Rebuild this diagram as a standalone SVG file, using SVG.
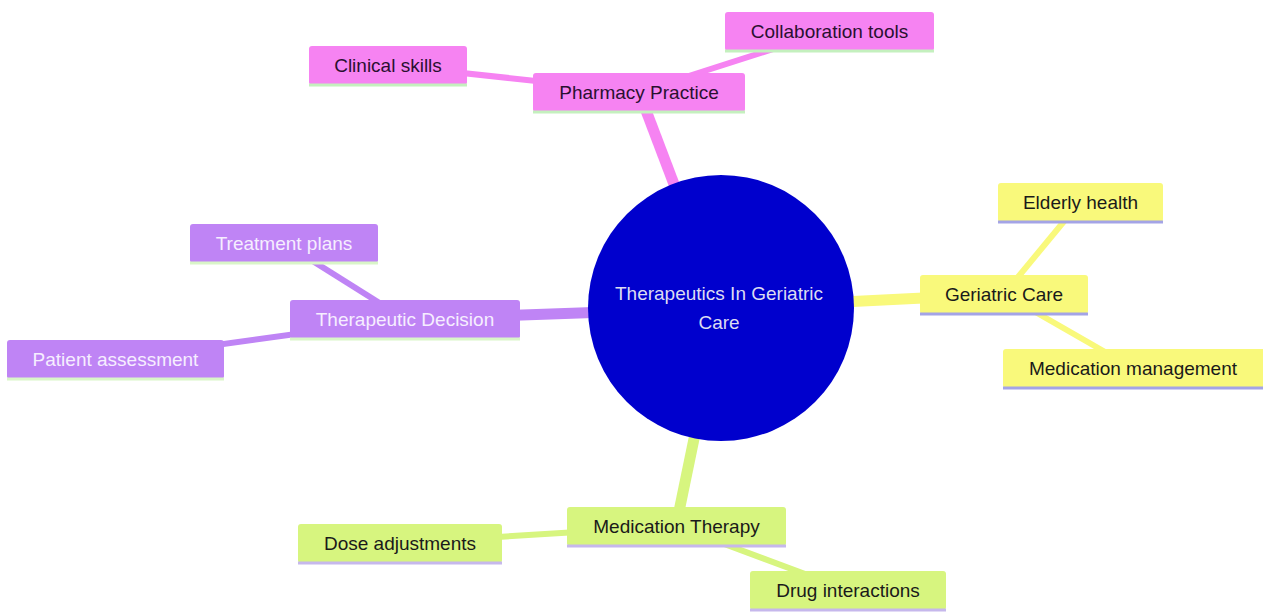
<svg xmlns="http://www.w3.org/2000/svg" width="1263" height="612" viewBox="0 0 1263 612">
<style>
text{font-family:"Liberation Sans",Arial,sans-serif;font-size:19px;text-anchor:middle}
.e0{stroke:#f683f2}.e1{stroke:#bf84f5}.e2{stroke:#f9f97b}.e3{stroke:#d7f57f}
.main{stroke-width:11;stroke-linecap:butt;fill:none}
.leaf{stroke-width:6;stroke-linecap:butt;fill:none}
.n0 rect{fill:#f683f2}.n0 text{fill:#2a1030}.n0 line{stroke:#c4f0be}
.n1 rect{fill:#bf84f5}.n1 text{fill:#f6eeff}.n1 line{stroke:#d9f5c8}
.n2 rect{fill:#f9f97b}.n2 text{fill:#1a1a1a}.n2 line{stroke:#a4a4e6}
.n3 rect{fill:#d7f57f}.n3 text{fill:#1a1a1a}.n3 line{stroke:#c6b8ec}
line.bl{stroke-width:3}
</style>
<rect width="1263" height="612" fill="#ffffff"/>
<g id="connectors">
<line class="main e0" x1="721" y1="308" x2="639" y2="92"/>
<line class="leaf e0" x1="639" y1="92" x2="388" y2="65"/>
<line class="leaf e0" x1="639" y1="92" x2="829" y2="31"/>
<line class="main e1" x1="721" y1="308" x2="405" y2="319"/>
<line class="leaf e1" x1="405" y1="319" x2="284" y2="243"/>
<line class="leaf e1" x1="405" y1="319" x2="115" y2="359"/>
<line class="main e2" x1="721" y1="308" x2="1004" y2="294"/>
<line class="leaf e2" x1="1004" y1="294" x2="1080" y2="202"/>
<line class="leaf e2" x1="1004" y1="294" x2="1133" y2="368"/>
<line class="main e3" x1="721" y1="308" x2="676" y2="526"/>
<line class="leaf e3" x1="676" y1="526" x2="400" y2="543"/>
<line class="leaf e3" x1="676" y1="526" x2="848" y2="590"/>
</g>
<g id="root">
<circle cx="721" cy="308" r="133" fill="#0000cd"/>
<text x="719" y="300" fill="#dcdcf2">Therapeutics In Geriatric</text>
<text x="719" y="329" fill="#dcdcf2">Care</text>
</g>
<g id="pharmacy-practice" class="n0"><rect x="533" y="73" width="212" height="39" rx="3"/><line class="bl" x1="533" y1="112" x2="745" y2="112"/><text x="639" y="99">Pharmacy Practice</text></g>
<g id="clinical-skills" class="n0"><rect x="309" y="46" width="158" height="39" rx="3"/><line class="bl" x1="309" y1="85" x2="467" y2="85"/><text x="388" y="72">Clinical skills</text></g>
<g id="collaboration-tools" class="n0"><rect x="725" y="12" width="209" height="39" rx="3"/><line class="bl" x1="725" y1="51" x2="934" y2="51"/><text x="829.5" y="38">Collaboration tools</text></g>
<g id="therapeutic-decision" class="n1"><rect x="290" y="300" width="230" height="39" rx="3"/><line class="bl" x1="290" y1="339" x2="520" y2="339"/><text x="405" y="326">Therapeutic Decision</text></g>
<g id="treatment-plans" class="n1"><rect x="190" y="224" width="188" height="39" rx="3"/><line class="bl" x1="190" y1="263" x2="378" y2="263"/><text x="284" y="250">Treatment plans</text></g>
<g id="patient-assessment" class="n1"><rect x="7" y="340" width="217" height="39" rx="3"/><line class="bl" x1="7" y1="379" x2="224" y2="379"/><text x="115.5" y="366">Patient assessment</text></g>
<g id="geriatric-care" class="n2"><rect x="920" y="275" width="168" height="39" rx="3"/><line class="bl" x1="920" y1="314" x2="1088" y2="314"/><text x="1004" y="301">Geriatric Care</text></g>
<g id="elderly-health" class="n2"><rect x="998" y="183" width="165" height="39" rx="3"/><line class="bl" x1="998" y1="222" x2="1163" y2="222"/><text x="1080.5" y="209">Elderly health</text></g>
<g id="medication-management" class="n2"><rect x="1003" y="349" width="262" height="39" rx="3"/><line class="bl" x1="1003" y1="388" x2="1263" y2="388"/><text x="1133" y="375">Medication management</text></g>
<g id="medication-therapy" class="n3"><rect x="567" y="507" width="219" height="39" rx="3"/><line class="bl" x1="567" y1="546" x2="786" y2="546"/><text x="676.5" y="533">Medication Therapy</text></g>
<g id="dose-adjustments" class="n3"><rect x="298" y="524" width="204" height="39" rx="3"/><line class="bl" x1="298" y1="563" x2="502" y2="563"/><text x="400" y="550">Dose adjustments</text></g>
<g id="drug-interactions" class="n3"><rect x="750" y="571" width="196" height="39" rx="3"/><line class="bl" x1="750" y1="610" x2="946" y2="610"/><text x="848" y="597">Drug interactions</text></g>
</svg>
